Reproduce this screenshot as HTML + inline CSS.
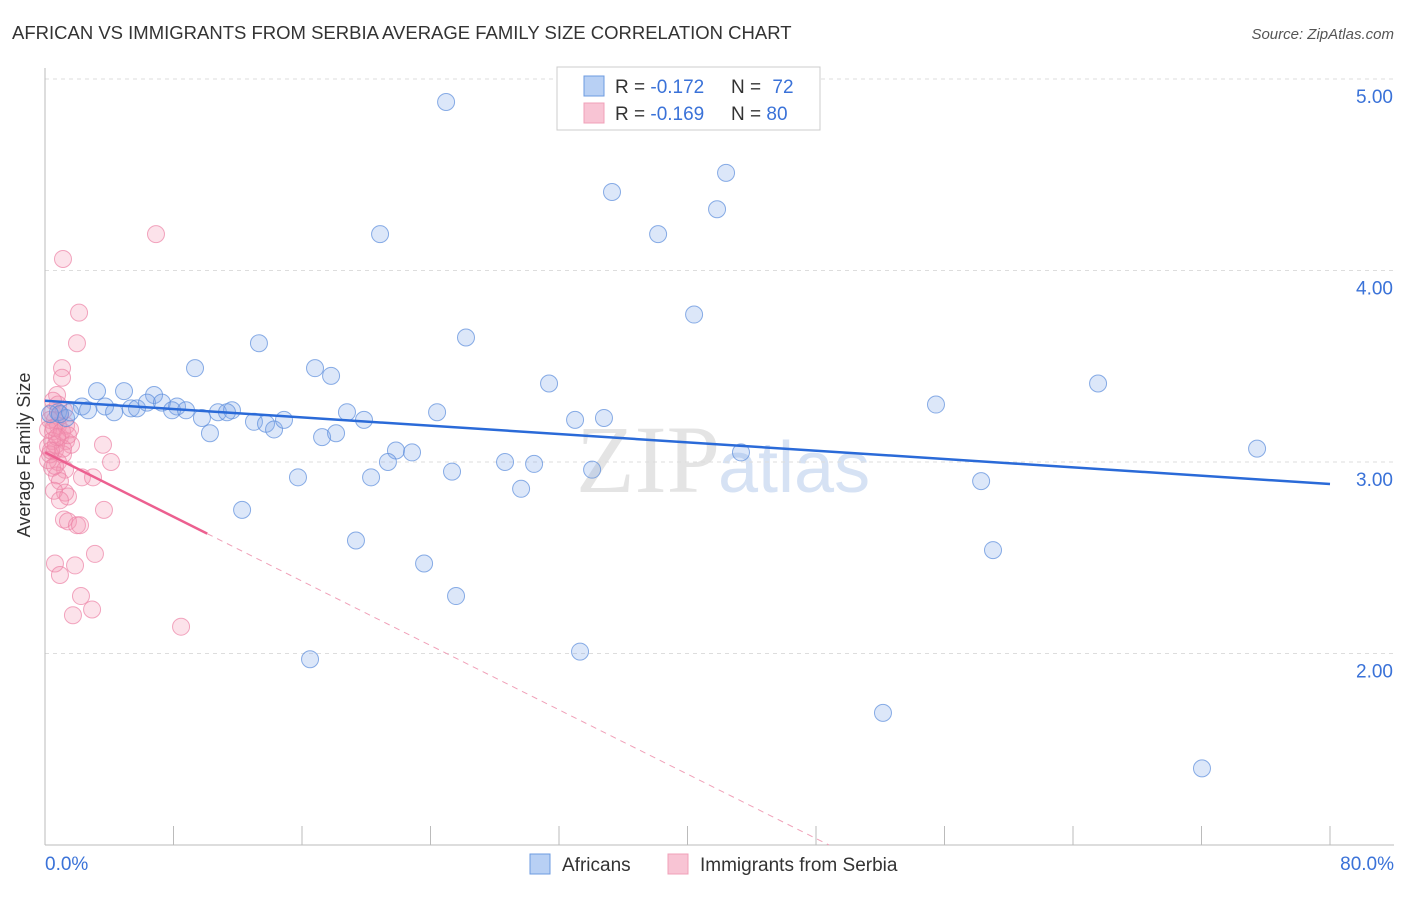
<!DOCTYPE html>
<html><head><meta charset="utf-8"><style>
body{margin:0;background:#fff;font-family:"Liberation Sans",sans-serif;}
</style></head><body>
<svg width="1406" height="892" xmlns="http://www.w3.org/2000/svg" font-family="Liberation Sans, sans-serif">
<text x="12" y="39" font-size="18.5" fill="#333">AFRICAN VS IMMIGRANTS FROM SERBIA AVERAGE FAMILY SIZE CORRELATION CHART</text>
<text x="1394" y="39" font-size="15" fill="#555" font-style="italic" text-anchor="end">Source: ZipAtlas.com</text>
<text x="720" y="492" font-size="96" fill="#e4e4e4" font-family="Liberation Serif, serif" text-anchor="end">ZIP</text>
<text x="718" y="492" font-size="72" fill="#d6e2f4">atlas</text>
<g id="grid"></g><g id="axes"></g><g id="marks"></g>
<text x="30" y="455" font-size="18" fill="#333" text-anchor="middle" transform="rotate(-90 30 455)">Average Family Size</text>
<g>
<rect x="557" y="67" width="263" height="63" fill="#fff" stroke="#ccc"/>
<rect x="584" y="76" width="20" height="20" fill="#b8d0f4" stroke="#6d9be0"/>
<rect x="584" y="103" width="20" height="20" fill="#f8c4d4" stroke="#f0a0b8"/>
<text x="615" y="93" font-size="19" fill="#333">R = <tspan fill="#3a72d8">-0.172</tspan></text>
<text x="731" y="93" font-size="19" fill="#333">N = <tspan dx="6" fill="#3a72d8">72</tspan></text>
<text x="615" y="120" font-size="19" fill="#333">R = <tspan fill="#3a72d8">-0.169</tspan></text>
<text x="731" y="120" font-size="19" fill="#333">N = <tspan fill="#3a72d8">80</tspan></text>
</g>
<rect x="530" y="854" width="20" height="20" fill="#b8d0f4" stroke="#6d9be0"/>
<text x="562" y="871" font-size="19" fill="#333">Africans</text>
<rect x="668" y="854" width="20" height="20" fill="#f8c4d4" stroke="#f0a0b8"/>
<text x="700" y="871" font-size="19" fill="#333">Immigrants from Serbia</text>
</svg>
<script>
const blueX=[24.97,42.40,35.30,41.84,20.86,38.17,40.41,13.32,26.21,9.34,16.81,17.81,3.24,4.92,6.79,31.38,65.56,55.47,2.30,3.74,5.35,5.73,6.35,7.28,8.22,7.91,8.78,2.68,0.81,1.31,4.30,10.77,11.64,11.33,9.77,13.01,13.76,14.26,14.88,18.80,19.86,24.41,33.00,34.80,10.27,17.25,18.12,21.85,22.85,21.35,43.33,75.46,28.64,30.45,25.34,15.75,20.30,34.06,58.28,29.64,12.27,19.36,59.02,23.60,25.59,33.31,16.50,52.17,72.03,0.93,1.56,0.31];
const blueY=[4.88,4.51,4.41,4.32,4.19,4.19,3.77,3.62,3.65,3.49,3.49,3.45,3.37,3.37,3.35,3.41,3.41,3.30,3.29,3.29,3.28,3.28,3.31,3.31,3.29,3.27,3.27,3.27,3.26,3.23,3.26,3.26,3.27,3.26,3.23,3.21,3.20,3.17,3.22,3.26,3.22,3.26,3.22,3.23,3.15,3.13,3.15,3.06,3.05,3.00,3.05,3.07,3.00,2.99,2.95,2.92,2.92,2.96,2.90,2.86,2.75,2.59,2.54,2.47,2.30,2.01,1.97,1.69,1.40,3.25,3.26,3.25];
const pinkX=[6.91,1.12,2.12,1.99,1.06,1.06,0.75,0.44,0.62,0.81,0.50,0.93,1.31,1.62,0.19,0.62,1.12,0.81,0.44,1.25,3.61,4.11,0.75,0.93,2.30,2.99,1.25,1.43,0.56,0.93,3.67,1.18,1.43,1.99,2.18,3.11,0.62,0.93,1.87,2.24,1.74,2.93,8.47,0.31,0.19,0.44,0.68,0.31,0.56,1.06,1.31,1.56,0.93,0.19,0.62,1.12,1.43,0.75,0.37,1.18,0.81,0.50];
const pinkY=[4.19,4.06,3.78,3.62,3.49,3.44,3.35,3.26,3.22,3.19,3.16,3.13,3.11,3.09,3.08,3.06,3.04,3.00,2.97,2.96,3.09,3.00,2.93,2.90,2.92,2.92,2.84,2.82,2.85,2.80,2.75,2.70,2.69,2.67,2.67,2.52,2.47,2.41,2.46,2.30,2.20,2.23,2.14,3.22,3.17,3.11,3.09,3.04,3.18,3.16,3.19,3.17,3.25,3.01,2.98,3.07,3.14,3.13,3.06,3.27,3.30,3.32];
const yTicks=[2,3,4,5];
const yTickLabels=["2.00","3.00","4.00","5.00"];
const xTicks=[0,8,16,24,32,40,48,56,64,72,80];
const blueTrend=[3.32,2.885];
const pinkTrend=[3.05,-0.042];
const pinkSolidEnd=10.1;
const NS="http://www.w3.org/2000/svg";
const sx=v=>45+v/80*1285;
const sy=v=>79+(5-v)*191.5;
function mk(tag,attrs,parent){const e=document.createElementNS(NS,tag);for(const k in attrs)e.setAttribute(k,attrs[k]);parent.appendChild(e);return e;}
const grid=document.getElementById('grid'),axes=document.getElementById('axes'),marks=document.getElementById('marks');
yTicks.forEach((t,i)=>{
 const l=mk('line',{x1:45,x2:1394,y1:sy(t),y2:sy(t),stroke:'#ddd','stroke-dasharray':'4 4'},grid);
 
 
 const tx=mk('text',{x:1393,y:sy(t)+24,'font-size':19,fill:'#3a72d8','text-anchor':'end'},axes);
 tx.textContent=yTickLabels[i];
 
 
});
const ax=mk('line',{x1:45,x2:1394,y1:845,y2:845,stroke:'#bbb'},axes);


const ay=mk('line',{x1:45,x2:45,y1:68,y2:845,stroke:'#bbb'},axes);


xTicks.forEach(t=>{const l=mk('line',{x1:sx(t),x2:sx(t),y1:826,y2:845,stroke:'#bbb'},axes);
 
 });
const xl=mk('text',{x:45,y:870,'font-size':19,fill:'#3a72d8'},axes);xl.textContent=xTicks[0].toFixed(1)+'%';


const xr=mk('text',{x:1394,y:870,'font-size':19,fill:'#3a72d8','text-anchor':'end'},axes);xr.textContent=xTicks[xTicks.length-1].toFixed(1)+'%';


pinkX.forEach((x,i)=>{const c=mk('circle',{cx:sx(x),cy:sy(pinkY[i]),r:8.5,fill:'rgba(244,150,180,0.28)',stroke:'rgba(236,130,165,0.7)','stroke-width':1},marks);
 
 });
blueX.forEach((x,i)=>{const c=mk('circle',{cx:sx(x),cy:sy(blueY[i]),r:8.5,fill:'rgba(130,170,235,0.28)',stroke:'rgba(90,140,220,0.7)','stroke-width':1},marks);
 
 });
const bl=mk('line',{x1:sx(0),y1:sy(blueTrend[0]),x2:sx(80),y2:sy(blueTrend[1]),stroke:'#2a6ad8','stroke-width':2.5},marks);


const pEnd=pinkTrend[0]+pinkTrend[1]*pinkSolidEnd;
const pl=mk('line',{x1:sx(0),y1:sy(pinkTrend[0]),x2:sx(pinkSolidEnd),y2:sy(pEnd),stroke:'#ec6090','stroke-width':2.5},marks);


const xz=(1-pinkTrend[0])/pinkTrend[1];
const pd=mk('line',{x1:sx(pinkSolidEnd),y1:sy(pEnd),x2:sx(xz),y2:sy(1),stroke:'#f0a0b8','stroke-width':1,'stroke-dasharray':'6 5'},marks);


</script>
</body></html>
